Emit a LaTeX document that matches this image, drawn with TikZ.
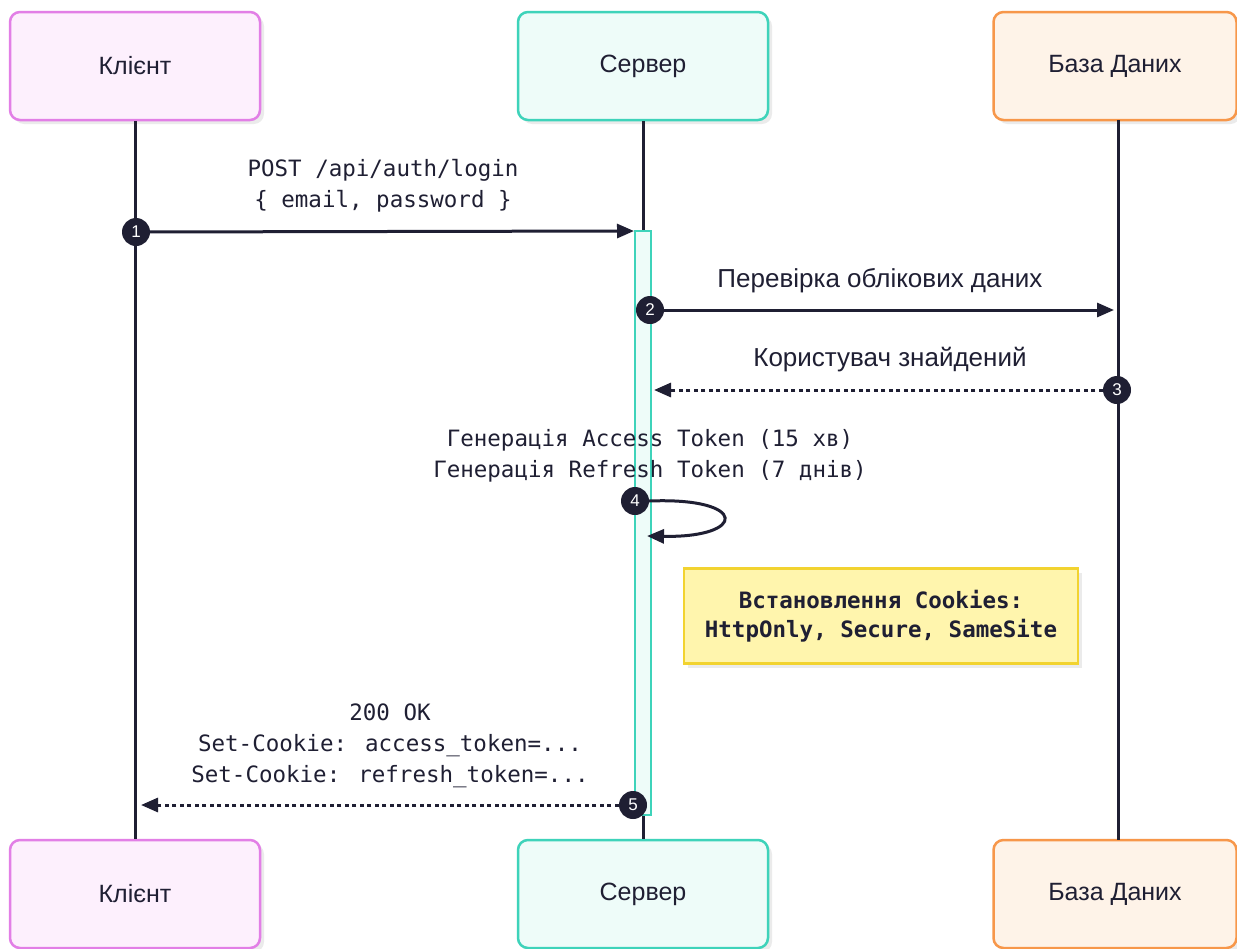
\documentclass[tikz,border=0pt]{standalone}
\usepackage{fontspec}
\setmainfont{Liberation Sans}
\newfontfamily\msgfont{DejaVu Sans Mono}
\usepackage{xcolor}
\usetikzlibrary{arrows.meta, positioning, shadows, calc}
\definecolor{ink}{HTML}{1F1F33}
\definecolor{clientDraw}{HTML}{E27FE6}
\definecolor{clientFill}{HTML}{FDF0FD}
\definecolor{serverDraw}{HTML}{3ED3BA}
\definecolor{serverFill}{HTML}{EEFCF9}
\definecolor{dbDraw}{HTML}{F7974A}
\definecolor{dbFill}{HTML}{FEF3E8}
\definecolor{noteDraw}{HTML}{F2D330}
\definecolor{noteFill}{HTML}{FFF5AD}
\tikzset{
    actor/.style={rectangle, rounded corners=10pt, line width=2.5pt, minimum width=250pt, minimum height=108pt,
        font=\fontsize{25}{30}\selectfont, text=ink,
        drop shadow={shadow xshift=4pt, shadow yshift=-4pt, fill=black, opacity=0.08}},
    client/.style={actor, draw=clientDraw, fill=clientFill},
    server/.style={actor, draw=serverDraw, fill=serverFill},
    db/.style={actor, draw=dbDraw, fill=dbFill, minimum width=243pt},
    lifeline/.style={line width=3pt, draw=ink},
    activation/.style={rectangle, draw=serverDraw, fill=serverFill, line width=1.5pt, minimum width=16pt, minimum height=584pt, inner sep=0pt},
    msg/.style={-{Triangle[length=17pt, width=14pt]}, line width=3pt, draw=ink},
    reply/.style={msg, dash pattern=on 4pt off 3.5pt},
    num/.style={circle, fill=ink, text=white, minimum size=28pt, inner sep=0pt, font=\fontsize{17}{17}\selectfont},
    msgtext/.style={font=\msgfont\fontsize{22.5}{31}\selectfont, text=ink, align=center},
    plaintext/.style={font=\fontsize{26}{30}\selectfont, text=ink, align=center},
    note/.style={rectangle, draw=noteDraw, fill=noteFill, line width=2.5pt, minimum width=394pt, minimum height=95pt,
        align=center, text=ink, font=\msgfont\bfseries\fontsize{22.5}{29}\selectfont,
        drop shadow={shadow xshift=4pt, shadow yshift=-4pt, fill=black, opacity=0.08}}
}

\begin{document}
\begin{tikzpicture}[x=1pt, y=-1pt]
    \useasboundingbox[fill=white] (0,0) rectangle (1237,948);

    % Actors
    \node[client] (ClientTop) at (135,66) {Клієнт};
    \node[server] (ServerTop) at (643,66) {Сервер};
    \node[db] (DbTop) at (1115,66) {База Даних};
    \node[client] (ClientBot) at (135,894) {Клієнт};
    \node[server] (ServerBot) at (643,894) {Сервер};
    \node[db] (DbBot) at (1115,894) {База Даних};

    % Lifelines
    \draw[lifeline] (ClientTop.south) -- (ClientBot.north);
    \draw[lifeline] (ServerTop.south) -- (ServerBot.north);
    \draw[lifeline] (1118,120) coordinate (DbLineTop) -- (1118,840) coordinate (DbLineBot);

    \node[activation] (Act) at (643,523) {};

    % Step numbers
    \node[num] (N1) at (136,232) {1};
    \node[num] (N2) at (650,310) {2};
    \node[num] (N3) at (1117,390) {3};
    \node[num] (N4) at (635,501) {4};
    \node[num] (N5) at (633,805) {5};

    % Login request
    \node[msgtext] (L1) at (383,186) {POST /api/auth/login\\\{ email, password \}};
    \coordinate (E1) at (634,231);
    \draw[msg] (N1) -- (E1);

    % Check credentials
    \node[plaintext] (L2) at (880,281) {Перевірка облікових даних};
    \coordinate (E2) at (1114,310);
    \draw[msg] (N2) -- (E2);

    % User found
    \node[plaintext] (L3) at (890,360) {Користувач знайдений};
    \coordinate (E3) at (654,390);
    \draw[reply] (N3) -- (E3);

    % Token generation
    \node[msgtext] (L4) at (650,456) {Генерація Access Token (15 хв)\\Генерація Refresh Token (7 днів)};
    \coordinate (E4) at (647,536);
    \draw[msg] (N4.east) .. controls +(100,-4) and +(100,2) .. (E4);

    % Cookies note
    \node[note] (Cookies) at (881,616) {Встановлення Cookies:\\HttpOnly, Secure, SameSite};

    % Response
    \node[msgtext] (L5) at (390,746) {200 OK\\Set-Cookie: access\_token=...\\Set-Cookie: refresh\_token=...};
    \coordinate (E5) at (141,805);
    \draw[reply] (N5) -- (E5);
\end{tikzpicture}
\end{document}
